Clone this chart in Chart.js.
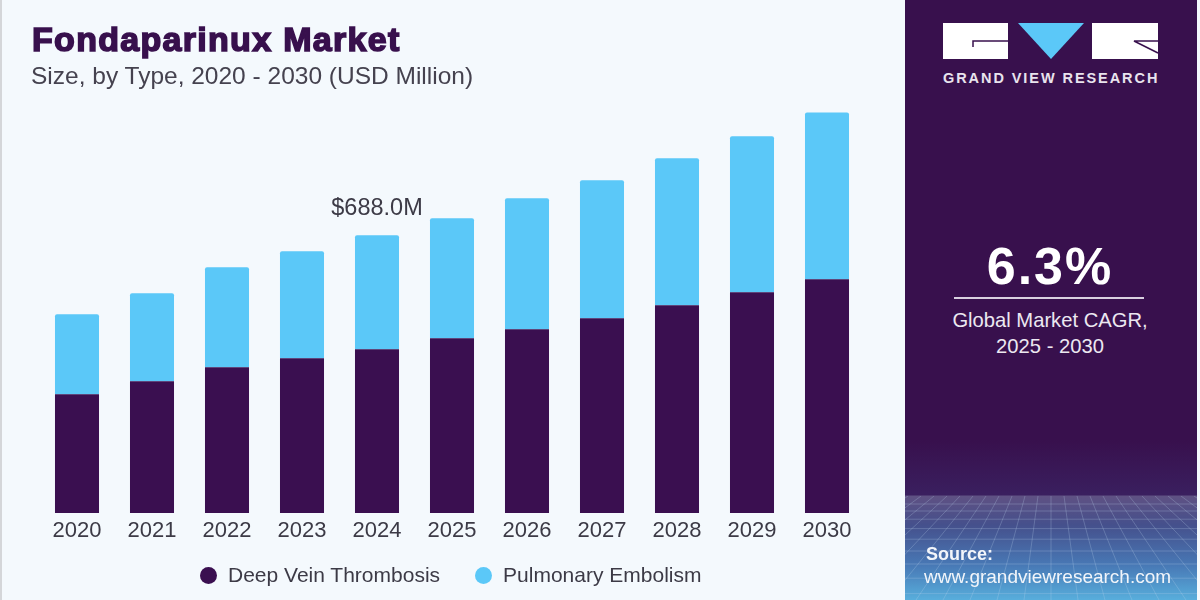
<!doctype html>
<html lang="en">
<head>
    <title>Fondaparinux Market</title>
    <meta charset="utf-8">
    <script src="https://cdn.jsdelivr.net/npm/chart.js@4"></script>
    <style>
        html, body { margin: 0; padding: 0; }
        body { width: 1200px; height: 600px; overflow: hidden; position: relative; background: #f4f9fd;
               font-family: "Liberation Sans", Arial, sans-serif; }
        #edge { position: absolute; left: 0; top: 0; width: 2px; height: 600px; background: #d4d6d9; }
        #chart { position: absolute; left: 0; top: 0; }
        #title { position: absolute; left: 32px; top: 18px; font-size: 34px; line-height: 42px; font-weight: bold;
                 color: #38104d; -webkit-text-stroke: 1.6px #38104d; letter-spacing: 1.3px; white-space: nowrap; }
        #subtitle { position: absolute; left: 31px; top: 62px; font-size: 24.5px; line-height: 28px; color: #45424f; white-space: nowrap; }
        #legend { position: absolute; left: 200px; top: 562px; display: flex; font-size: 21px; line-height: 26px; color: #3c3a46; white-space: nowrap; }
        #legend .item { display: flex; align-items: center; margin-right: 35px; }
        #legend .dot { width: 17px; height: 17px; border-radius: 50%; margin-right: 11px; }
        #panel { position: absolute; left: 905px; top: 0; width: 292px; height: 600px; overflow: hidden;
                 background: linear-gradient(#38104d 0, #38104d 440px, #3a1f5f 495px, #5f5183 496px, #45508c 525px, #4878b5 565px, #58aedc 600px); }
        #mesh { position: absolute; left: 0; top: 496px; }
        #logo { position: absolute; left: 0; top: 0; }
        .logoText { position: absolute; left: 38px; top: 68px; width: 220px; font-size: 14.5px; line-height: 20px; font-weight: bold;
                    color: #e9e4ee; letter-spacing: 1.93px; white-space: nowrap; }
        #cagr { position: absolute; left: 0; width: 290px; top: 235px; text-align: center; font-size: 52px; line-height: 62px;
                font-weight: bold; color: #fff; letter-spacing: 2px; }
        #rule { position: absolute; left: 49px; top: 297px; width: 190px; height: 2px; background: #d9d0e0; }
        #cagrText { position: absolute; left: 0; width: 290px; top: 307px; text-align: center; font-size: 20.2px; line-height: 26px; color: #ece8f1; }
        #source { position: absolute; left: 21px; top: 544px; font-size: 18px; line-height: 20px; font-weight: bold; color: #f2f5fa; }
        #url { position: absolute; left: 19px; top: 566px; font-size: 19px; line-height: 22px; color: #f2f5fa; white-space: nowrap; }
    </style>
</head>
<body>
<div id="edge"></div>
<canvas id="chart" width="1200" height="600"></canvas>
<div id="title">Fondaparinux Market</div>
<div id="subtitle">Size, by Type, 2020 - 2030 (USD Million)</div>
<div id="legend"></div>
<div id="panel">
    <canvas id="mesh" width="292" height="104"></canvas>
    <svg id="logo" width="292" height="70">
        <rect x="38" y="23" width="65" height="36" fill="#fff"/>
        <path d="M68 47V41H103" fill="none" stroke="#38104d" stroke-width="1.5"/>
        <polygon points="113,23 179,23 146,59" fill="#5bc8f8"/>
        <rect x="187" y="23" width="66" height="36" fill="#fff"/>
        <path d="M253 41H229L253 53" fill="none" stroke="#38104d" stroke-width="1.5"/>
    </svg>
    <div class="logoText">GRAND VIEW RESEARCH</div>
    <div id="cagr">6.3%</div>
    <div id="rule"></div>
    <div id="cagrText">Global Market CAGR,<br>2025 - 2030</div>
    <div id="source">Source:</div>
    <div id="url">www.grandviewresearch.com</div>
</div>
<script>
    const years = ['2020', '2021', '2022', '2023', '2024', '2025', '2026', '2027', '2028', '2029', '2030'];
    const deepVein = [294.5, 326.7, 361.3, 383.6, 405.9, 433.1, 455.4, 482.6, 514.8, 547.0, 579.2];
    const pulmonary = [198.0, 217.8, 247.5, 264.8, 282.1, 297.0, 324.2, 341.6, 363.8, 386.1, 413.3];
    const calloutIndex = 4;
    const calloutText = '$688.0M';

    const totalLabel = {
        id: 'totalLabel',
        afterDatasetsDraw(chart) {
            let ctx = chart.ctx;
            let x = chart.scales.x.getPixelForValue(calloutIndex);
            let y = chart.scales.y.getPixelForValue(deepVein[calloutIndex] + pulmonary[calloutIndex]);
            ctx.save();
            ctx.font = '23.5px "Liberation Sans"';
            ctx.fillStyle = '#3c3a46';
            ctx.textAlign = 'center';
            ctx.textBaseline = 'middle';
            ctx.fillText(calloutText, x, y - 27);
            ctx.restore();
        }
    };

    var chart = new Chart(document.getElementById('chart').getContext('2d'), {
        type: 'bar',
        data: {
            labels: years,
            datasets: [{
                label: 'Deep Vein Thrombosis',
                data: deepVein,
                backgroundColor: '#3a0f50',
                barPercentage: 1,
                categoryPercentage: 0.587
            }, {
                label: 'Pulmonary Embolism',
                data: pulmonary,
                backgroundColor: '#5bc8f8',
                borderRadius: { topLeft: 2, topRight: 2 },
                borderSkipped: false,
                barPercentage: 1,
                categoryPercentage: 0.587
            }]
        },
        options: {
            responsive: false,
            animation: false,
            layout: { padding: { left: 39.5, right: 335.5, top: 69, bottom: 47 } },
            plugins: {
                tooltip: { enabled: false },
                legend: { display: false }
            },
            scales: {
                x: {
                    stacked: true,
                    grid: { display: false, drawTicks: false },
                    border: { display: false },
                    ticks: { color: '#3c3a46', padding: 5, font: { family: '"Liberation Sans"', size: 22 } },
                    afterFit(scale) { scale.height = 40; }
                },
                y: {
                    stacked: true,
                    display: false,
                    min: 0,
                    max: 1100
                }
            }
        },
        plugins: [totalLabel]
    });

    // legend is laid out in html, the spacing of the built in one can't match
    chart.data.datasets.forEach(function (ds) {
        let item = document.createElement('span');
        item.className = 'item';
        let dot = document.createElement('span');
        dot.className = 'dot';
        dot.style.background = ds.backgroundColor;
        item.appendChild(dot);
        item.appendChild(document.createTextNode(ds.label));
        document.getElementById('legend').appendChild(item);
    });

    // backdrop mesh in the bottom of the side panel
    function drawMesh() {
        let ctx = document.getElementById('mesh').getContext('2d');
        ctx.strokeStyle = 'rgba(190, 215, 240, 0.25)';
        ctx.lineWidth = 1;
        for (let i = -20; i <= 20; i++) {
            ctx.beginPath();
            ctx.moveTo(146 + i * 13, 0);
            ctx.lineTo(146 + i * 27, 104);
            ctx.stroke();
        }
        let y = 8, step = 7;
        while (y < 104) {
            ctx.beginPath();
            ctx.moveTo(0, y);
            ctx.lineTo(292, y);
            ctx.stroke();
            y += step;
            step += 1.2;
        }
    }
    drawMesh();
</script>
</body>
</html>
